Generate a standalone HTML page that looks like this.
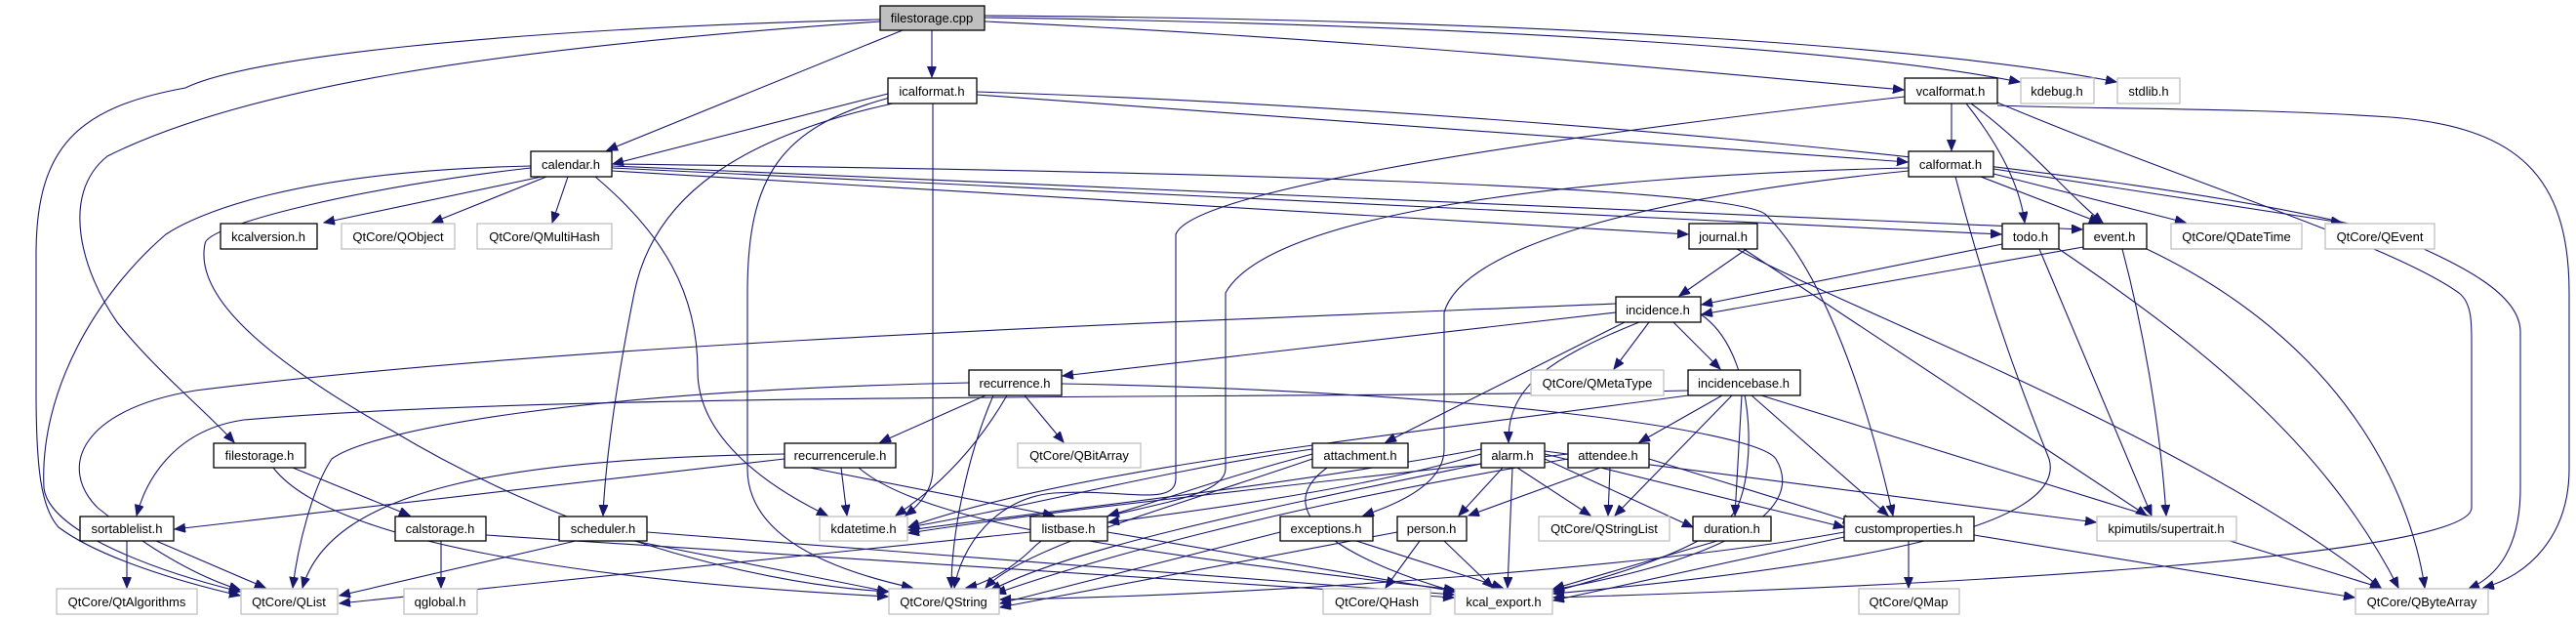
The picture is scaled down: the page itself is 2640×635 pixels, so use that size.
<!DOCTYPE html>
<html><head><meta charset="utf-8"><style>
html,body{margin:0;padding:0;background:#fff;}
svg{display:block;}
text{font-family:"Liberation Sans",sans-serif;font-size:13px;text-anchor:middle;fill:#000;}
.n{fill:#fff;stroke:#000;stroke-width:1.3;}
.g{fill:#fff;stroke:#bfbfbf;stroke-width:1.3;}
.r{fill:#bfbfbf;stroke:#000;stroke-width:1.3;}
path{fill:none;stroke:#191970;stroke-width:1.1;marker-end:url(#a);}
</style></head><body>
<svg width="2640" height="635" viewBox="0 0 2640 635" xmlns="http://www.w3.org/2000/svg">
<defs><marker id="a" markerUnits="userSpaceOnUse" markerWidth="12" markerHeight="10" refX="11" refY="4.5" orient="auto"><polygon points="0,0 11,4.5 0,9" fill="#191970" stroke="#191970"/></marker></defs>
<g>
<path d="M955,31 L955,79"/>
<path d="M925,31 L622,154"/>
<path d="M1009,22 C1400,40 1700,70 1951,92"/>
<path d="M1009,18 C1500,25 1900,50 2070,84"/>
<path d="M1009,16 C1600,20 2000,50 2169,84"/>
<path d="M902,22 C500,50 250,90 110,160 C60,200 85,280 120,330 C160,380 210,420 240,453"/>
<path d="M902,20 C500,30 250,60 190,90 C80,110 37,150 37,260 L37,400 C37,480 42,520 60,540 C100,570 180,595 246,610"/>
<path d="M910,96 L628,168"/>
<path d="M915,106 C760,140 670,200 650,300 C630,400 620,480 618,528"/>
<path d="M956,106 L956,480 C956,500 945,515 928,528"/>
<path d="M912,100 C800,130 766,180 766,300 L766,480 C766,560 880,590 935,602"/>
<path d="M1001,97 L1955,166"/>
<path d="M1001,94 C1500,110 2200,170 2450,240 C2520,270 2583,300 2583,340 L2583,500 C2583,560 2560,590 2530,603"/>
<path d="M2000,106 L2000,154"/>
<path d="M2015,106 C2050,150 2070,190 2075,228"/>
<path d="M2020,106 C2080,150 2120,200 2155,228"/>
<path d="M1952,99 C1500,150 1220,200 1205,240 L1205,490 C1205,520 1150,500 1080,505 C1020,510 985,560 978,602"/>
<path d="M2047,105 C2250,190 2450,250 2520,300 C2533,310 2533,330 2533,350 L2533,520 C2533,570 2000,600 1592,612"/>
<path d="M2047,108 C2150,112 2300,110 2450,120 C2580,130 2633,180 2633,300 L2633,480 C2633,550 2590,590 2545,602"/>
<path d="M627,172 L2051,240"/>
<path d="M627,170 L2134,235"/>
<path d="M627,175 L1730,240"/>
<path d="M627,168 C1200,175 1780,190 1810,220 C1850,260 1900,350 1940,528"/>
<path d="M544,170 C300,175 200,220 170,240 C100,300 40,400 45,500 C50,540 140,580 246,606"/>
<path d="M544,172 C380,190 210,230 210,250 C200,300 260,360 400,440 C600,560 800,600 911,606"/>
<path d="M610,181 C680,240 715,300 715,380 C715,450 790,500 848,528"/>
<path d="M555,181 L332,228"/>
<path d="M560,181 L443,228"/>
<path d="M582,181 L566,228"/>
<path d="M2030,181 L2152,228"/>
<path d="M2043,178 L2240,228"/>
<path d="M2043,173 L2400,228"/>
<path d="M2004,181 C2040,320 2080,420 2100,470 C2120,540 1900,580 1592,608"/>
<path d="M1956,172 C1600,180 1300,220 1256,300 L1256,480 C1256,520 1100,520 1060,560 C1030,590 1000,600 990,602"/>
<path d="M1956,175 C1700,200 1500,250 1480,320 L1480,460 C1480,500 1420,520 1397,528"/>
<path d="M1790,255 L1721,303"/>
<path d="M1787,255 L2200,528"/>
<path d="M1780,255 C1900,320 2250,450 2440,602"/>
<path d="M2052,250 L1744,312"/>
<path d="M2090,255 L2205,528"/>
<path d="M2110,255 C2250,350 2380,450 2458,602"/>
<path d="M2135,253 L1744,322"/>
<path d="M2175,255 C2200,350 2215,450 2220,528"/>
<path d="M2200,255 C2400,350 2470,500 2485,602"/>
<path d="M1656,320 L1089,385"/>
<path d="M1690,330 L1654,378"/>
<path d="M1715,330 L1763,378"/>
<path d="M1665,330 L1420,453"/>
<path d="M1680,330 C1580,370 1545,400 1546,453"/>
<path d="M1656,311 C1200,330 600,350 200,400 C80,420 60,480 100,520 C150,560 200,590 246,604"/>
<path d="M1743,322 C1800,360 1800,480 1780,520 C1760,560 1650,590 1592,606"/>
<path d="M1010,405 L902,453"/>
<path d="M1050,405 L1090,453"/>
<path d="M1032,405 C1000,460 960,500 918,528"/>
<path d="M993,392 C600,400 380,440 340,470 C320,500 305,560 300,602"/>
<path d="M1018,405 C990,470 975,550 975,602"/>
<path d="M1088,393 C1500,400 1800,440 1820,470 C1850,520 1780,570 1592,604"/>
<path d="M862,479 L868,528"/>
<path d="M830,479 L1080,528"/>
<path d="M804,470 L179,542"/>
<path d="M804,465 C520,470 340,500 310,602"/>
<path d="M880,479 C950,540 1200,570 1491,604"/>
<path d="M1730,400 C1300,410 600,400 250,430 C180,440 150,490 140,528"/>
<path d="M1730,405 C1400,450 1100,480 931,540"/>
<path d="M1765,405 L1680,453"/>
<path d="M1775,405 L1655,528"/>
<path d="M1785,405 L1778,528"/>
<path d="M1795,405 L1935,528"/>
<path d="M1805,405 L2440,602"/>
<path d="M1345,460 C1200,480 1050,520 931,540"/>
<path d="M1345,465 C1250,490 1200,510 1136,528"/>
<path d="M1360,479 C1290,530 1400,580 1491,606"/>
<path d="M1345,470 C1200,520 1050,560 1010,602"/>
<path d="M1540,479 L1495,528"/>
<path d="M1555,479 L1630,528"/>
<path d="M1583,470 L1735,540"/>
<path d="M1550,479 L1545,602"/>
<path d="M1583,465 L1890,540"/>
<path d="M1518,460 C1300,500 1100,520 931,543"/>
<path d="M1518,465 C1400,500 1250,520 1136,535"/>
<path d="M1518,475 C1300,520 1100,560 1015,605"/>
<path d="M1583,462 L2148,535"/>
<path d="M1640,479 L1505,528"/>
<path d="M1650,479 L1648,528"/>
<path d="M1690,470 L1900,535"/>
<path d="M1607,465 C1300,500 1100,520 931,546"/>
<path d="M1607,470 C1300,520 1100,580 1020,608"/>
<path d="M300,479 L420,528"/>
<path d="M280,479 C350,570 700,600 910,611"/>
<path d="M452,554 L452,602"/>
<path d="M498,548 L1490,612"/>
<path d="M590,554 L348,610"/>
<path d="M650,554 L910,606"/>
<path d="M663,545 L1490,609"/>
<path d="M130,554 L130,602"/>
<path d="M160,554 L272,602"/>
<path d="M1056,545 L348,618"/>
<path d="M1135,545 L1492,606"/>
<path d="M1312,545 L1025,618"/>
<path d="M1390,554 L1540,602"/>
<path d="M1432,545 L1025,622"/>
<path d="M1455,554 L1420,602"/>
<path d="M1480,554 L1530,602"/>
<path d="M1760,554 L1592,603"/>
<path d="M1956,554 L1956,602"/>
<path d="M1890,545 C1700,580 1300,610 1025,614"/>
<path d="M1890,550 L1592,615"/>
<path d="M2023,548 L2413,612"/>
</g>
<g>
<rect class="r" x="902" y="6" width="107" height="25"/><text x="955" y="23">filestorage.cpp</text>
<rect class="n" x="910" y="80" width="91" height="26"/><text x="955" y="98">icalformat.h</text>
<rect class="n" x="1952" y="80" width="95" height="26"/><text x="1999" y="98">vcalformat.h</text>
<rect class="g" x="2071" y="80" width="75" height="26"/><text x="2108" y="98">kdebug.h</text>
<rect class="g" x="2170" y="80" width="64" height="26"/><text x="2202" y="98">stdlib.h</text>
<rect class="n" x="544" y="155" width="83" height="26"/><text x="585" y="173">calendar.h</text>
<rect class="n" x="1956" y="155" width="87" height="26"/><text x="1999" y="173">calformat.h</text>
<rect class="n" x="226" y="229" width="99" height="26"/><text x="275" y="247">kcalversion.h</text>
<rect class="g" x="350" y="229" width="116" height="26"/><text x="408" y="247">QtCore/QObject</text>
<rect class="g" x="489" y="229" width="138" height="26"/><text x="558" y="247">QtCore/QMultiHash</text>
<rect class="n" x="1731" y="229" width="70" height="26"/><text x="1766" y="247">journal.h</text>
<rect class="n" x="2052" y="229" width="58" height="26"/><text x="2081" y="247">todo.h</text>
<rect class="n" x="2135" y="229" width="65" height="26"/><text x="2167" y="247">event.h</text>
<rect class="g" x="2225" y="229" width="134" height="26"/><text x="2292" y="247">QtCore/QDateTime</text>
<rect class="g" x="2383" y="229" width="112" height="26"/><text x="2439" y="247">QtCore/QEvent</text>
<rect class="n" x="1656" y="304" width="87" height="26"/><text x="1699" y="322">incidence.h</text>
<rect class="n" x="993" y="379" width="95" height="26"/><text x="1040" y="397">recurrence.h</text>
<rect class="g" x="1569" y="379" width="136" height="26"/><text x="1637" y="397">QtCore/QMetaType</text>
<rect class="n" x="1730" y="379" width="115" height="26"/><text x="1787" y="397">incidencebase.h</text>
<rect class="n" x="219" y="454" width="94" height="25"/><text x="266" y="471">filestorage.h</text>
<rect class="n" x="804" y="454" width="114" height="25"/><text x="861" y="471">recurrencerule.h</text>
<rect class="g" x="1043" y="454" width="126" height="25"/><text x="1106" y="471">QtCore/QBitArray</text>
<rect class="n" x="1345" y="454" width="98" height="25"/><text x="1394" y="471">attachment.h</text>
<rect class="n" x="1518" y="454" width="65" height="25"/><text x="1550" y="471">alarm.h</text>
<rect class="n" x="1607" y="454" width="83" height="25"/><text x="1648" y="471">attendee.h</text>
<rect class="n" x="82" y="529" width="96" height="25"/><text x="130" y="546">sortablelist.h</text>
<rect class="n" x="405" y="529" width="93" height="25"/><text x="451" y="546">calstorage.h</text>
<rect class="n" x="573" y="529" width="90" height="25"/><text x="618" y="546">scheduler.h</text>
<rect class="g" x="840" y="529" width="90" height="25"/><text x="885" y="546">kdatetime.h</text>
<rect class="n" x="1056" y="529" width="79" height="25"/><text x="1095" y="546">listbase.h</text>
<rect class="n" x="1312" y="529" width="95" height="25"/><text x="1359" y="546">exceptions.h</text>
<rect class="n" x="1432" y="529" width="71" height="25"/><text x="1467" y="546">person.h</text>
<rect class="g" x="1577" y="529" width="134" height="25"/><text x="1644" y="546">QtCore/QStringList</text>
<rect class="n" x="1735" y="529" width="80" height="25"/><text x="1775" y="546">duration.h</text>
<rect class="n" x="1890" y="529" width="133" height="25"/><text x="1956" y="546">customproperties.h</text>
<rect class="g" x="2149" y="529" width="143" height="25"/><text x="2220" y="546">kpimutils/supertrait.h</text>
<rect class="g" x="58" y="603" width="144" height="26"/><text x="130" y="621">QtCore/QtAlgorithms</text>
<rect class="g" x="247" y="603" width="99" height="26"/><text x="296" y="621">QtCore/QList</text>
<rect class="g" x="414" y="603" width="75" height="26"/><text x="451" y="621">qglobal.h</text>
<rect class="g" x="911" y="603" width="113" height="26"/><text x="967" y="621">QtCore/QString</text>
<rect class="g" x="1356" y="603" width="110" height="26"/><text x="1411" y="621">QtCore/QHash</text>
<rect class="g" x="1491" y="603" width="100" height="26"/><text x="1541" y="621">kcal_export.h</text>
<rect class="g" x="1905" y="603" width="103" height="26"/><text x="1956" y="621">QtCore/QMap</text>
<rect class="g" x="2414" y="603" width="136" height="26"/><text x="2482" y="621">QtCore/QByteArray</text>
</g>
</svg>
</body></html>
